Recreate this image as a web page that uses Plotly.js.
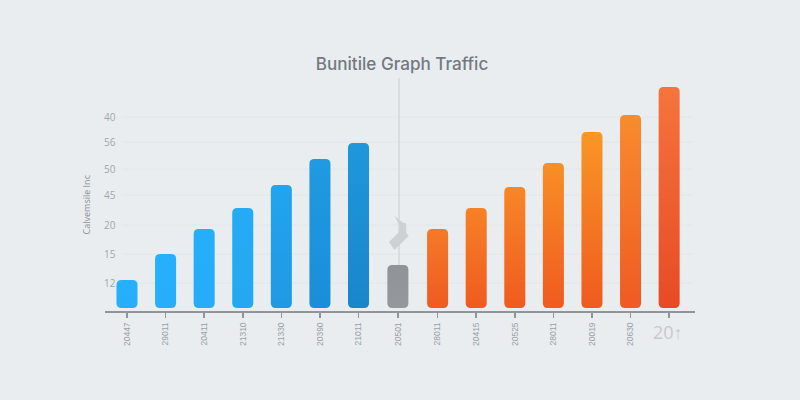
<!DOCTYPE html>
<html>
<head>
<meta charset="utf-8">
<script src="https://cdn.plot.ly/plotly-3.0.1.min.js"></script>
<style>html,body{margin:0;padding:0;background:#e9edf0}</style>
</head>
<body>
<div id="chart" style="width:800px;height:400px"></div>
<script>
const positions = [0,1,2,3,4,5,6,7.02,8.05,9.05,10.05,11.05,12.05,13.05,14.05];
const tickLabels = ['20447','29011','20411','21310','21330','20390','21011','20501','28011','20415','20525','28011','20019','20630',''];
const barValues = [31,57,82,103,126,152,168,46,82,103,124,148,179,196,224];
const barTopColors = ['#26b0fb','#26b0fb','#26aef9','#25aaf5','#23a4ee','#209ae2','#1f97dd','#909499','#f47a28','#f68126','#f78726','#f88f26','#f99726','#f88c2e','#f5743c'];
const barBottomColors = ['#26aefa','#26aefa','#26acf8','#24a8f2','#2099e4','#1a8ed6','#1986cc','#94979b','#f05a20','#f05a20','#f05a20','#f05a20','#f05a20','#ef5a22','#e84a26'];
const yTickVals = [28,57,86,116,142,169,194];
const yTickText = ['12','15','20','45','50','56','40'];
const barBase = 3;

const gridShapes = yTickVals.map(v=>({type:'line',xref:'paper',yref:'y',x0:0.029,x1:0.9966,y0:v,y1:v,
  line:{color:'#e2e6e9',width:1},layer:'below'}));
const shapes = gridShapes.concat([
  {type:'line',xref:'x',yref:'y',x0:7.05,x1:7.05,y0:46,y1:233,line:{color:'#d3d7da',width:1.5},layer:'below'},
  {type:'path',xref:'x',yref:'y',layer:'above',line:{width:0},fillcolor:'#cdd1d4',
   path:'M 6.93 95 L 7.16 88 L 7.23 88 L 7.24 78 L 7.30 75 L 6.93 61 L 6.79 69 L 7.05 79 L 7.07 85 Z'}
]);

Plotly.newPlot('chart',[{
  type:'bar',x:positions,y:barValues.map(v=>v-barBase),base:barBase,width:0.545,
  marker:{color:barTopColors,line:{width:0}},hoverinfo:'skip'
}],{
  width:800,height:400,
  paper_bgcolor:'#e9edf0',plot_bgcolor:'rgba(0,0,0,0)',
  margin:{l:105,r:105,t:75,b:89,pad:0},
  showlegend:false,
  title:{text:'Bunitile Graph Traffic',x:0.5025,xanchor:'center',y:0.84,yanchor:'middle',
    font:{family:'Inter, "Open Sans", sans-serif',size:17.1,color:'#72797f',weight:500}},
  xaxis:{range:[-0.57,14.72],tickmode:'array',tickvals:positions,ticktext:tickLabels,tickangle:-90,
    ticks:'outside',ticklen:5,tickwidth:1.5,tickcolor:'#8f959a',showline:true,linecolor:'#8f959a',linewidth:2,showgrid:false,zeroline:false,
    ticklabelstandoff:1,tickfont:{family:'"Liberation Sans", sans-serif',size:8.5,color:'#9aa0a5'}},
  yaxis:{range:[0,236],tickmode:'array',tickvals:yTickVals,ticktext:yTickText,ticks:'',ticklabelposition:'inside',ticklabelstandoff:-4,
    showline:false,showgrid:false,zeroline:false,
    tickfont:{family:'"Open Sans", sans-serif',size:10,color:'#a2a7ab'}},
  shapes:shapes,
  annotations:[
    {xref:'x',yref:'paper',x:14.02,y:-0.09,yanchor:'middle',xanchor:'center',showarrow:false,
     text:'20↑',font:{family:'"Open Sans", sans-serif',size:18,color:'#c6c9cc'}},
    {xref:'paper',yref:'paper',x:-0.032,y:0.452,xanchor:'center',yanchor:'middle',showarrow:false,textangle:-90,
     text:'Calvemsile Inc',font:{family:'"Open Sans", sans-serif',size:9,color:'#8a9095'}}
  ]
},{displayModeBar:false,staticPlot:true}).then(function(gd){
  const svg = gd.querySelector('.main-svg');
  const NS = 'http://www.w3.org/2000/svg';
  const defs = svg.querySelector('defs') || svg.insertBefore(document.createElementNS(NS,'defs'),svg.firstChild);
  gd.querySelectorAll('.bars .point path').forEach(function(p,i){
    const b = p.getBBox(), r = 5;
    p.setAttribute('d',`M${b.x+r},${b.y}H${b.x+b.width-r}Q${b.x+b.width},${b.y} ${b.x+b.width},${b.y+r}V${b.y+b.height-r}Q${b.x+b.width},${b.y+b.height} ${b.x+b.width-r},${b.y+b.height}H${b.x+r}Q${b.x},${b.y+b.height} ${b.x},${b.y+b.height-r}V${b.y+r}Q${b.x},${b.y} ${b.x+r},${b.y}Z`);
    const g = document.createElementNS(NS,'linearGradient');
    g.setAttribute('id','barGrad'+i);g.setAttribute('x1','0');g.setAttribute('y1','0');g.setAttribute('x2','0');g.setAttribute('y2','1');
    [[0,barTopColors[i]],[1,barBottomColors[i]]].forEach(function(s){
      const st = document.createElementNS(NS,'stop');
      st.setAttribute('offset',s[0]);st.setAttribute('stop-color',s[1]);g.appendChild(st);
    });
    defs.appendChild(g);
    p.style.fill = 'url(#barGrad'+i+')';
  });
});
</script>
</body>
</html>
